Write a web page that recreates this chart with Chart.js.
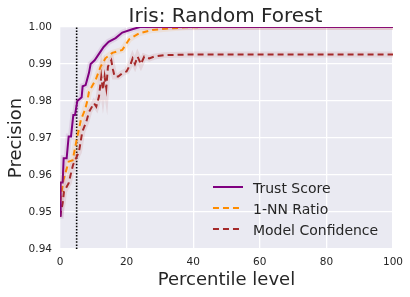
<!DOCTYPE html>
<html>
<head>
<meta charset="utf-8">
<script src="https://cdn.jsdelivr.net/npm/chart.js@4/dist/chart.umd.min.js"></script>
<style>
  html, body { margin: 0; padding: 0; background: #fff; }
  #wrap { width: 410px; height: 297px; }
</style>
</head>
<body>
<div id="wrap"><canvas id="chart" width="410" height="297"></canvas></div>
<script>
// values
const tsX = [0, 0.2, 0.8, 1.1, 2.0, 2.6, 3.3, 4.0, 4.5, 5.2, 6.5, 6.8, 7.7, 8.7, 9.2, 10.4, 11.9, 13.1, 14.6, 16.7, 18.7, 21.7, 24, 100];
const tsY = [0.949, 0.958, 0.958, 0.9645, 0.9645, 0.9704, 0.9704, 0.9762, 0.9762, 0.980, 0.981, 0.984, 0.9843, 0.9876, 0.990, 0.991, 0.993, 0.9946, 0.996, 0.997, 0.9985, 0.9994, 1.0, 1.0];

const nnX = [0, 1, 2.6, 3.8, 5, 6.3, 7.5, 8.2, 8.7, 10.7, 12.2, 13.7, 15.7, 18.7, 20.8, 23.8, 27.7, 32.7, 37.8, 45, 100];
const nnY = [0.9528, 0.9585, 0.9636, 0.964, 0.9695, 0.975, 0.9776, 0.980, 0.9825, 0.9857, 0.9893, 0.9916, 0.993, 0.9938, 0.9967, 0.9983, 0.9992, 0.9996, 0.9999, 1.0, 1.0];

const mcX = [0, 0.8, 1.2, 2.6, 3.9, 5.7, 6.7, 7.9, 8.7, 10.2, 10.9, 11.7, 12.4, 12.9, 13.4, 13.9, 14.4, 15.4, 15.9, 16.4, 17.5, 18.8, 20, 21.3, 21.8, 22.5, 23.3, 24.3, 25.3, 26.8, 28.3, 31.3, 40, 100];
const mcY = [0.9487, 0.9524, 0.9555, 0.9578, 0.9627, 0.9663, 0.9717, 0.9744, 0.977, 0.9794, 0.9785, 0.9812, 0.9866, 0.983, 0.9866, 0.9835, 0.9893, 0.991, 0.9885, 0.9866, 0.9866, 0.9876, 0.988, 0.9902, 0.9915, 0.990, 0.992, 0.990, 0.992, 0.9915, 0.992, 0.9924, 0.9926, 0.9926];

const cutoffX = [5, 5];
const cutoffY = [0.94, 1.0];

const xTicks = [0, 20, 40, 60, 80, 100];
const yTicks = [0.94, 0.95, 0.96, 0.97, 0.98, 0.99, 1.00];

const seriesNames = ['Trust Score', '1-NN Ratio', 'Model Confidence'];
const chartTitle = 'Iris: Random Forest';

const txt = '#262626';
const font = 'DejaVu Sans';

function pts(xs, ys) {
    return xs.map((x, i) => ({ x: x, y: ys[i] }));
}

function band(xs, ys, color) {
    return {
        data: pts(xs, ys), borderColor: color, borderWidth: 6,
        pointRadius: 0, fill: false, tension: 0, legend: false
    };
}

function line(name, xs, ys, color, dash) {
    return {
        label: name, data: pts(xs, ys), borderColor: color, borderWidth: 2,
        borderDash: dash, pointRadius: 0, fill: false, tension: 0, legend: true
    };
}

// legend drawn inside the plot, bottom right; title centred over the plot
const innerLegend = {
    id: 'innerLegend',
    afterDatasetsDraw(chart) {
        const ctx = chart.ctx;
        const a = chart.chartArea;
        const items = chart.data.datasets.filter(d => d.legend);
        ctx.save();
        items.forEach((d, i) => {
            const y = a.bottom - 62 + i * 21;
            ctx.strokeStyle = d.borderColor;
            ctx.lineWidth = 2;
            ctx.setLineDash(d.borderDash || []);
            ctx.beginPath();
            ctx.moveTo(a.right - 180, y);
            ctx.lineTo(a.right - 150, y);
            ctx.stroke();
            ctx.setLineDash([]);
            ctx.fillStyle = txt;
            ctx.font = '14px "' + font + '"';
            ctx.textBaseline = 'alphabetic';
            ctx.textAlign = 'left';
            ctx.fillText(d.label, a.right - 140, y + 6.3);
        });

        ctx.font = '20px "' + font + '"';
        ctx.textAlign = 'center';
        ctx.fillText(chartTitle, (a.left + a.right) / 2 - 1, a.top - 5.3);
        ctx.restore();
    }
};

const bgPlugin = {
    id: 'bg',
    beforeDraw(chart) {
        const a = chart.chartArea;
        chart.ctx.save();
        chart.ctx.fillStyle = '#EAEAF2';
        chart.ctx.fillRect(a.left, a.top, a.right - a.left, a.bottom - a.top);
        chart.ctx.restore();
    }
};

new Chart(document.getElementById('chart'), {
    type: 'line',
    data: {
        datasets: [
            band(tsX, tsY, 'rgba(128,0,128,0.10)'),
            band(nnX, nnY, 'rgba(255,140,0,0.10)'),
            band(mcX, mcY, 'rgba(165,42,42,0.10)'),
            line(seriesNames[0], tsX, tsY, 'purple', []),
            line(seriesNames[1], nnX, nnY, 'darkorange', [6, 4]),
            line(seriesNames[2], mcX, mcY, 'brown', [6, 4]),
            {
                data: pts(cutoffX, cutoffY), borderColor: '#000', borderWidth: 1.6,
                borderDash: [1.5, 1.6], pointRadius: 0, fill: false, legend: false
            }
        ]
    },
    options: {
        responsive: false,
        animation: false,
        layout: { padding: { top: 27, right: 14, bottom: 0, left: 0 } },
        plugins: {
            legend: { display: false },
            tooltip: { enabled: false },
            title: { display: false }
        },
        scales: {
            x: {
                type: 'linear', min: 0, max: 100,
                afterFit(s) { s.height = 48; },
                afterBuildTicks(s) { s.ticks = xTicks.map(v => ({ value: v })); },
                grid: { color: '#fff', lineWidth: 1.3, drawTicks: false },
                border: { display: false },
                ticks: { color: txt, padding: 7, font: { family: font, size: 10.5 } },
                title: {
                    display: true, text: 'Percentile level', color: txt,
                    font: { family: font, size: 18 }, padding: { top: 0, bottom: 5.5 }
                }
            },
            y: {
                min: 0.94, max: 1.0,
                afterFit(s) { s.width = 60; },
                afterBuildTicks(s) { s.ticks = yTicks.map(v => ({ value: v })); },
                grid: { color: '#fff', lineWidth: 1.3, drawTicks: false },
                border: { display: false },
                ticks: {
                    color: txt, padding: 8, font: { family: font, size: 10.5 },
                    callback: v => v.toFixed(2)
                },
                title: {
                    display: true, text: 'Precision', color: txt,
                    font: { family: font, size: 18 }, padding: { top: 6, bottom: 0 }
                }
            }
        }
    },
    plugins: [bgPlugin, innerLegend]
});
</script>
</body>
</html>
